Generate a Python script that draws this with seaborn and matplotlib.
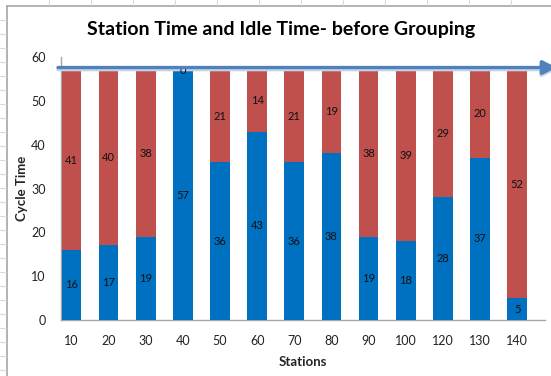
import matplotlib
matplotlib.use("Agg")
import matplotlib.pyplot as plt
from matplotlib.lines import Line2D
import pandas as pd
import seaborn as sns

stations = ["10", "20", "30", "40", "50", "60", "70", "80", "90", "100", "120", "130", "140"]
station_time = [16, 17, 19, 57, 36, 43, 36, 38, 19, 18, 28, 37, 5]
idle_time = [41, 40, 38, 0, 21, 14, 21, 19, 38, 39, 29, 20, 52]
cycle_time = 57

sns.set_theme(style="white")
plt.rcParams["font.family"] = ["Lato", "DejaVu Sans"]

df = pd.DataFrame({"Stations": stations, "Station": station_time, "Idle": idle_time})
df["Total"] = df["Station"] + df["Idle"]

W, H = 551, 376
fig = plt.figure(figsize=(W / 100, H / 100), dpi=100)
fig.patch.set_facecolor("white")

# sheet frame behind the chart
fig.add_artist(Line2D([7 / W, 1], [1 - 6 / H, 1 - 6 / H], color="#A6A6A6", lw=1.2))
fig.add_artist(Line2D([7 / W, 7 / W], [0, 1 - 6 / H], color="#A6A6A6", lw=1.2))
for xp in range(49, W, 42):
    fig.add_artist(Line2D([xp / W, xp / W], [1 - 5 / H, 1], color="#DADADA", lw=0.8))
for yp in range(20, H, 14):
    fig.add_artist(Line2D([0, 6 / W], [1 - yp / H, 1 - yp / H], color="#DADADA", lw=0.8))

ax = fig.add_axes([61 / W, 1 - 320 / H, (545 - 61) / W, (320 - 57) / H])

red = "#C0504D"
blue = "#0070C0"
bw = 0.53
sns.barplot(data=df, x="Stations", y="Total", order=stations, color=red,
            saturation=1, width=bw, linewidth=0, ax=ax, zorder=2)
sns.barplot(data=df, x="Stations", y="Station", order=stations, color=blue,
            saturation=1, width=bw, linewidth=0, ax=ax, zorder=3)

for i, (s, d) in enumerate(zip(station_time, idle_time)):
    ax.text(i, s / 2, f"{s}", ha="center", va="center", fontsize=8,
            color="#111111", zorder=5)
    ax.text(i, s + d / 2, f"{d}", ha="center", va="center", fontsize=8,
            color="#111111", zorder=5)

ax.set_xlim(-0.28, 12.75)
ax.set_ylim(0, 60)
ax.set_yticks(range(0, 61, 10))
ax.tick_params(axis="both", length=0, labelsize=9, colors="#222222")
ax.tick_params(axis="y", pad=11)
ax.tick_params(axis="x", pad=11)
for side in ["top", "right"]:
    ax.spines[side].set_visible(False)
for side in ["left", "bottom"]:
    ax.spines[side].set_color("#A6A6A6")
    ax.spines[side].set_linewidth(1)
    ax.spines[side].set_zorder(1)

ax.set_xlabel("Stations", fontsize=9.5, fontweight="bold", labelpad=6)
ax.set_ylabel("Cycle Time", fontsize=9.5, fontweight="bold")
ax.yaxis.set_label_coords((28 - 61) / 484, 0.5)

# cycle time arrow across the chart (soft shadow under the line)
for off, col, lw, z in [(0.15, "#C5D3E4", 2.6, 4), (0.6, "#4F81BD", 2.4, 6)]:
    ax.annotate("", xy=(551 / 484 - 61 / 484 + 0.012, cycle_time + off),
                xytext=(-3 / 484, cycle_time + off),
                xycoords=("axes fraction", "data"), textcoords=("axes fraction", "data"),
                arrowprops=dict(arrowstyle="-|>,head_length=0.7,head_width=0.35",
                                color=col, lw=lw, shrinkA=0, shrinkB=0),
                annotation_clip=False, zorder=z)

fig.text(281 / W, 1 - 30 / H, "Station Time and Idle Time- before Grouping",
         ha="center", va="center", fontsize=14, fontweight="bold", color="black")

fig.savefig("out.png", dpi=100)
